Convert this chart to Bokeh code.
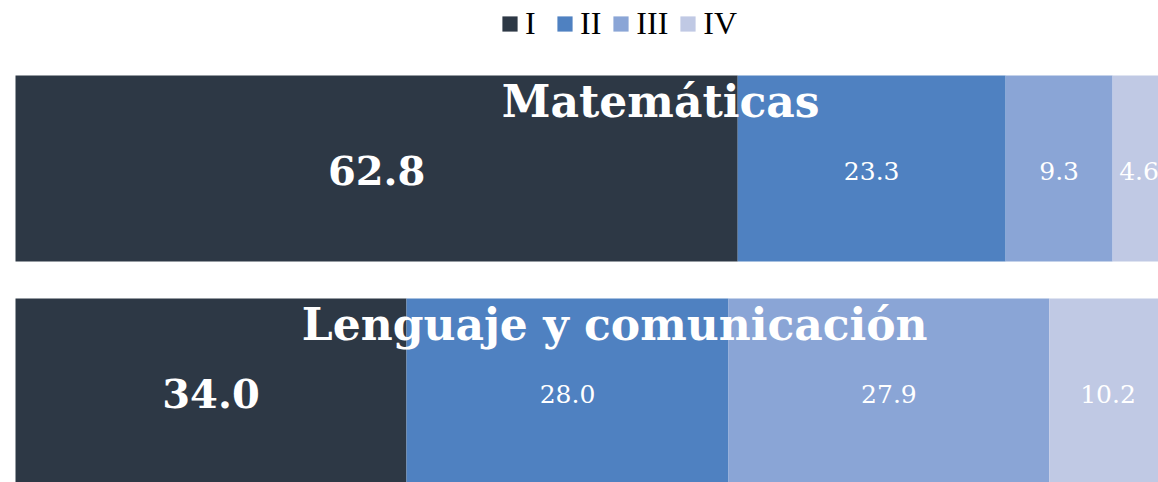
from bokeh.plotting import figure
from bokeh.models import ColumnDataSource, Range1d, Legend, LegendItem
from bokeh.core.properties import value
from bokeh.embed import file_html
from bokeh.resources import INLINE

subjects = ["Lenguaje y comunicación", "Matemáticas"]
levels = ["I", "II", "III", "IV"]
lvl_I = [34.0, 62.8]
lvl_II = [28.0, 23.3]
lvl_III = [27.9, 9.3]
lvl_IV = [10.2, 4.6]
colors = ["#2d3845", "#4f81c1", "#8aa5d6", "#c0c9e4"]

series = [lvl_I, lvl_II, lvl_III, lvl_IV]
ypos = list(range(len(subjects)))
data = {"y": ypos}
for name, vals in zip(levels, series):
    data[name] = vals
src = ColumnDataSource(data)

FONT = "DejaVu Serif"

p = figure(width=1158, height=482, output_backend="svg", toolbar_location=None,
           x_range=Range1d(-1.304, 99.39), y_range=Range1d(-0.408, 1.753),
           min_border=0, min_border_left=0, min_border_right=0,
           min_border_top=0, min_border_bottom=0)
p.axis.visible = False
p.grid.visible = False
p.outline_line_color = None
p.background_fill_color = "white"

renderers = p.hbar_stack(levels, y="y", height=0.834, color=colors, source=src,
                         line_color=None)

# value labels
for i, yv in enumerate(ypos):
    left = 0.0
    for k, vals in enumerate(series):
        v = vals[i]
        c = left + v / 2
        big = (k == 0)
        p.text(x=[c], y=[yv - 0.01], text=[f"{v:.1f}"], text_color="white",
               text_align="center", text_baseline="middle",
               text_font=value(FONT),
               text_font_size="40px" if big else "25px",
               text_font_style="bold" if big else "normal")
        left += v

# subject labels
label_x = [52.1, 56.1]
for i, yv in enumerate(ypos):
    p.text(x=[label_x[i]], y=[yv + 0.30], text=[subjects[i]], text_color="white",
           text_align="center", text_baseline="middle",
           text_font=value(FONT), text_font_size="44px", text_font_style="bold")

legend = Legend(items=[LegendItem(label=l, renderers=[r]) for l, r in zip(levels, renderers)],
                orientation="horizontal", location=(500, 482 - 42),
                label_text_font="Liberation Serif", label_text_font_size="32px",
                label_text_color="#000000", label_height=24,
                glyph_width=19, glyph_height=19, spacing=10, label_standoff=6,
                border_line_color=None, background_fill_alpha=0,
                margin=0, padding=0)
p.add_layout(legend)

open("out.html", "w").write(file_html(p, INLINE))
